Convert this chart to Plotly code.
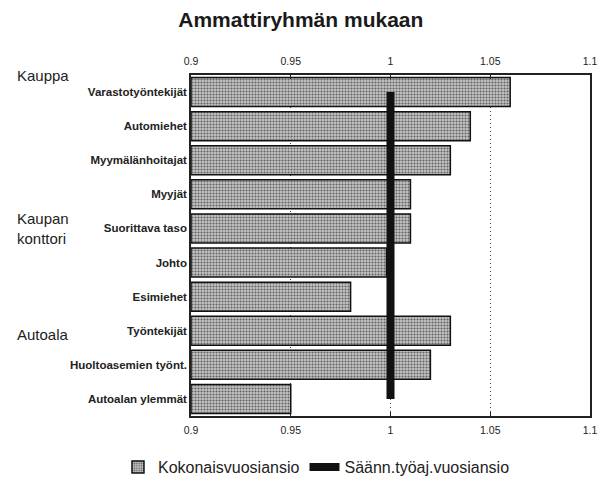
import plotly.graph_objects as go

categories = ["Varastotyöntekijät", "Automiehet", "Myymälänhoitajat", "Myyjät",
              "Suorittava taso", "Johto", "Esimiehet", "Työntekijät",
              "Huoltoasemien työnt.", "Autoalan ylemmät"]
kokonais = [1.06, 1.04, 1.03, 1.01, 1.01, 0.998, 0.98, 1.03, 1.02, 0.95]
saann = [1.0] * len(categories)
tick_vals = [0.9, 0.95, 1.0, 1.05, 1.1]
tick_text = ["0.9", "0.95", "1", "1.05", "1.1"]
groups = ["Kauppa", "Kaupan<br>konttori", "Autoala"]
group_pos = [-0.5, 4.0, 7.1]

FONT = "Liberation Sans, Arial, sans-serif"

fig = go.Figure()
fig.add_trace(go.Bar(
    y=categories, x=[v - 0.9 for v in kokonais], base=0.9, orientation="h",
    name="Kokonaisvuosiansio", width=0.85,
    marker=dict(color="#a0a0a0", line=dict(color="#111", width=1.5),
                pattern=dict(shape=".", size=3, solidity=0.38,
                             fgcolor="#000000", bgcolor="#c4c4c4")),
    hoverinfo="skip",
))
fig.add_trace(go.Scatter(
    y=categories, x=saann, xaxis="x2", mode="lines",
    name="Säänn.työaj.vuosiansio",
    line=dict(color="#111", width=8),
))

axis_common = dict(range=[0.9, 1.1], tickvals=tick_vals, ticktext=tick_text,
                   ticks="inside", ticklen=4, tickcolor="#222",
                   tickfont=dict(size=10.5, family=FONT, color="#222"),
                   showline=True, linecolor="#222", linewidth=1.5,
                   zeroline=False, automargin=False, ticklabelstandoff=4)
n = len(categories)
fig.update_layout(
    width=600, height=472,
    margin=dict(l=183, r=18, t=67, b=64, autoexpand=False),
    paper_bgcolor="white", plot_bgcolor="white",
    title=dict(text="<b>Ammattiryhmän mukaan</b>", x=0.488, xanchor="center",
               y=0.975, yanchor="middle",
               font=dict(size=21, family=FONT, color="#1a1a1a")),
    xaxis=dict(**axis_common, side="bottom", showgrid=True,
               gridcolor="#444", griddash="1px,3px", gridwidth=1),
    xaxis2=dict(**axis_common, side="top", overlaying="x", anchor="y",
                showgrid=False),
    yaxis=dict(categoryorder="array", categoryarray=categories,
               range=[n - 0.5, -0.5], autorange=False,
               showline=True, linecolor="#222",
               linewidth=1.5, mirror=True, ticks="", automargin=False,
               tickfont=dict(size=11.5, family=FONT, color="#222"),
               ticklabelstandoff=0),
    legend=dict(orientation="h", x=-0.183, xanchor="left", y=-0.15,
                yanchor="middle", font=dict(size=16, family=FONT, color="#222"),
                itemwidth=30, tracegroupgap=0),
    showlegend=True,
)
fig.update_yaxes(ticktext=["<b>%s</b>" % c for c in categories],
                 tickvals=categories)
for g, p in zip(groups, group_pos):
    fig.add_annotation(text=g, xref="paper", yref="y", x=-0.441, y=p,
                       xanchor="left", yanchor="middle", showarrow=False,
                       align="left",
                       font=dict(size=15, family=FONT, color="#222"))

fig.write_html("out.html")
